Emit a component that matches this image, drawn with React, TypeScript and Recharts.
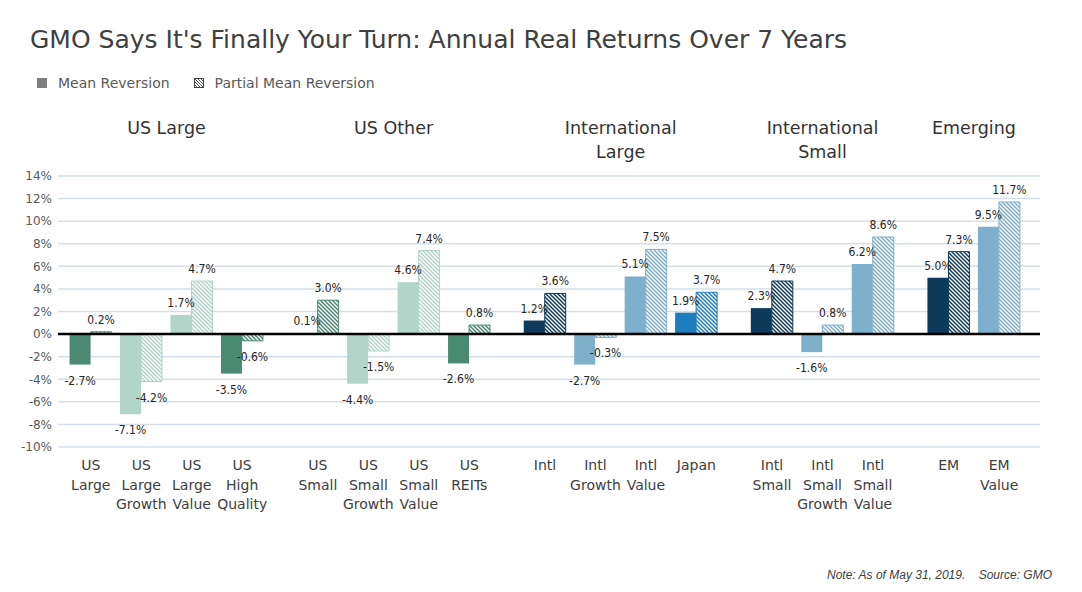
import React from "react";
import { BarChart, Bar, XAxis, YAxis, CartesianGrid, ReferenceLine, Cell, LabelList } from "recharts";

// data (as of May 31, 2019)
const groupNames = ["US Large", "US Other", "International\nLarge", "International\nSmall", "Emerging"];
const groupSizes = [4, 4, 4, 3, 2];

const categories = [
  "US\nLarge", "US\nLarge\nGrowth", "US\nLarge\nValue", "US\nHigh\nQuality",
  "US\nSmall", "US\nSmall\nGrowth", "US\nSmall\nValue", "US\nREITs",
  "Intl", "Intl\nGrowth", "Intl\nValue", "Japan",
  "Intl\nSmall", "Intl\nSmall\nGrowth", "Intl\nSmall\nValue",
  "EM", "EM\nValue",
];
const meanReversion = [-2.7, -7.1, 1.7, -3.5, 0.1, -4.4, 4.6, -2.6, 1.2, -2.7, 5.1, 1.9, 2.3, -1.6, 6.2, 5.0, 9.5];
const partialMeanReversion = [0.2, -4.2, 4.7, -0.6, 3.0, -1.5, 7.4, 0.8, 3.6, -0.3, 7.5, 3.7, 4.7, 0.8, 8.6, 7.3, 11.7];
const yTicks = [-10, -8, -6, -4, -2, 0, 2, 4, 6, 8, 10, 12, 14];

// styling
const palette: Record<string, string> = {
  green: "#4a8a73",
  mint: "#b1d5c9",
  navy: "#0e3a5b",
  sky: "#7eb0cc",
  blue: "#1d7dbd",
};
const categoryTones = [
  "green", "mint", "mint", "green",
  "green", "mint", "mint", "green",
  "navy", "sky", "sky", "blue",
  "navy", "sky", "sky",
  "navy", "sky",
];

const GROUP_GAP = 0.5; // extra spacing between groups, in category units
const FONT = "'DejaVu Sans', Verdana, sans-serif";
const LABEL_FONT = "'Liberation Sans Narrow', 'DejaVu Sans Condensed', Arial, sans-serif";

// lay categories out along a numeric axis so groups get a little gap
const data: any[] = [];
const groupCenters: number[] = [];
{
  let cursor = 0;
  let idx = 0;
  groupSizes.forEach((size) => {
    const start = cursor;
    for (let k = 0; k < size; k++) {
      data.push({
        pos: cursor,
        name: categories[idx],
        mean: meanReversion[idx],
        partial: partialMeanReversion[idx],
        tone: categoryTones[idx],
      });
      cursor += 1;
      idx += 1;
    }
    groupCenters.push((start + cursor - 1) / 2);
    cursor += GROUP_GAP;
  });
}
const positions = data.map((d) => d.pos);
const nameByPos = new Map(data.map((d) => [d.pos, d.name]));
const groupByPos = new Map(groupCenters.map((c, i) => [c, groupNames[i]]));
const xDomain = [positions[0] - 0.65, positions[positions.length - 1] + 0.81];

const BottomTick = (props: any) => {
  const { x, y, payload } = props;
  const lines = (nameByPos.get(payload.value) || "").split("\n");
  return (
    <g>
      {lines.map((l: string, i: number) => (
        <text key={i} x={x} y={y + 23 + i * 19.5} textAnchor="middle" fill="#404040" fontSize={14} fontFamily={FONT}>
          {l}
        </text>
      ))}
    </g>
  );
};

const TopTick = (props: any) => {
  const { x, y, payload } = props;
  const lines = (groupByPos.get(payload.value) || "").split("\n");
  return (
    <g>
      {lines.map((l: string, i: number) => (
        <text key={i} x={x} y={y - 42 + i * 24} textAnchor="middle" fill="#333333" fontSize={17.5} fontFamily={FONT}>
          {l}
        </text>
      ))}
    </g>
  );
};

const ValueLabel = (props: any) => {
  const { x, y, width, height, value } = props;
  if (value == null) return null;
  const top = Math.min(y, y + height);
  const bottom = Math.max(y, y + height);
  const ty = value >= 0 ? top - 8 : bottom + 20;
  return (
    <text x={x + width / 2} y={ty} textAnchor="middle" fill="#262626" fontSize={12} fontFamily={LABEL_FONT}>
      {value.toFixed(1)}%
    </text>
  );
};

function LegendItem({ hatched, label }: { hatched?: boolean; label: string }) {
  return (
    <div style={{ display: "flex", alignItems: "center", marginRight: 24 }}>
      <svg width={10} height={10} style={{ marginRight: 11 }}>
        <defs>
          <pattern id="legend-hatch" width={3} height={3} patternUnits="userSpaceOnUse">
            <rect width={3} height={3} fill="#fff" />
            <path d="M-1,-1 L4,4 M-1,2 L1,4 M2,-1 L4,1" stroke="#555" strokeWidth={1} />
          </pattern>
        </defs>
        {hatched ? (
          <rect x={0.5} y={0.5} width={9} height={9} fill="url(#legend-hatch)" stroke="#444" strokeWidth={1} />
        ) : (
          <rect x={0} y={0} width={10} height={10} fill="#7f7f7f" />
        )}
      </svg>
      <span>{label}</span>
    </div>
  );
}

export default function App() {
  return (
    <div style={{ position: "absolute", left: 0, top: 0, width: 1082, height: 592, background: "#fff", fontFamily: FONT }}>
      <div style={{ position: "absolute", left: 30, top: 25, fontSize: 25, lineHeight: "30px", color: "#404040", whiteSpace: "nowrap" }}>
        GMO Says It's Finally Your Turn: Annual Real Returns Over 7 Years
      </div>
      <div style={{ position: "absolute", left: 37, top: 74, display: "flex", fontSize: 14, lineHeight: "18px", color: "#595959" }}>
        <LegendItem label="Mean Reversion" />
        <LegendItem hatched label="Partial Mean Reversion" />
      </div>

      <BarChart
        width={1082}
        height={592}
        data={data}
        margin={{ top: 106, right: 42, bottom: 65, left: 8 }}
        barGap={0}
        barSize={21}
      >
        <defs>
          {Object.keys(palette).map((tone) => (
            <pattern key={tone} id={`hatch-${tone}`} width={4} height={4} patternUnits="userSpaceOnUse">
              <rect width={4} height={4} fill="#fff" />
              <path d="M-1,-1 L5,5 M-1,3 L1,5 M3,-1 L5,1" stroke={palette[tone]} strokeWidth={1.5} />
            </pattern>
          ))}
        </defs>
        <CartesianGrid vertical={false} stroke="#d5dfe8" strokeWidth={1.5} />
        <XAxis
          dataKey="pos"
          type="number"
          domain={xDomain}
          ticks={positions}
          interval={0}
          axisLine={false}
          tickLine={false}
          tickSize={0}
          tickMargin={0}
          height={80}
          tick={<BottomTick />}
          allowDataOverflow
        />
        <XAxis
          xAxisId="top"
          dataKey="pos"
          type="number"
          orientation="top"
          domain={xDomain}
          ticks={groupCenters}
          interval={0}
          axisLine={false}
          tickLine={false}
          tickSize={0}
          tickMargin={0}
          height={70}
          tick={<TopTick />}
          allowDataOverflow
        />
        <YAxis
          domain={[-10, 14]}
          ticks={yTicks}
          interval={0}
          tickFormatter={(v: number) => `${v}%`}
          axisLine={false}
          tickLine={false}
          tickSize={0}
          tickMargin={6}
          width={50}
          tick={{ fill: "#595959", fontSize: 12, fontFamily: FONT }}
          allowDataOverflow
        />
        <ReferenceLine y={0} stroke="#000" strokeWidth={2.5} />
        <Bar dataKey="mean" isAnimationActive={false}>
          {data.map((d, i) => (
            <Cell key={i} fill={palette[d.tone]} />
          ))}
          <LabelList dataKey="mean" content={<ValueLabel />} />
        </Bar>
        <Bar dataKey="partial" isAnimationActive={false}>
          {data.map((d, i) => (
            <Cell key={i} fill={`url(#hatch-${d.tone})`} stroke={palette[d.tone]} strokeWidth={1} />
          ))}
          <LabelList dataKey="partial" content={<ValueLabel />} />
        </Bar>
      </BarChart>

      <div
        style={{
          position: "absolute",
          right: 30,
          top: 568,
          fontFamily: "'Liberation Sans', Arial, sans-serif",
          fontStyle: "italic",
          fontSize: 12,
          color: "#404040",
          whiteSpace: "pre",
        }}
      >
        {"Note: As of May 31, 2019.    Source: GMO"}
      </div>
    </div>
  );
}
